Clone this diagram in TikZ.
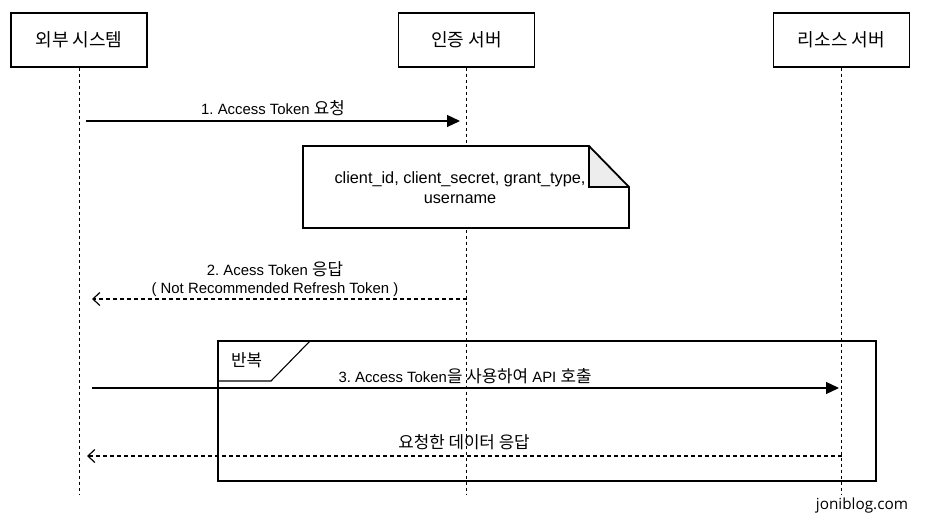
\documentclass[tikz,border=0pt]{standalone}
\usepackage{fontspec}
\setmainfont{Liberation Sans}
\newfontfamily\kr[Scale=1.13]{Noto Sans CJK KR}
\newfontfamily\blogfont{Open Sans}
\usetikzlibrary{arrows.meta}
\frenchspacing
\begin{document}
\begin{tikzpicture}[x=1pt,y=-1pt,
 actor/.style={draw, line width=1.3pt, minimum width=136pt, minimum height=54pt, inner sep=0pt, font=\kr\fontsize{16}{19}\selectfont},
 life/.style={dash pattern=on 3pt off 3pt, line width=1pt},
 req/.style={line width=1.2pt, -{Triangle[length=13pt,width=12pt]}},
 resp/.style={line width=1.2pt, dash pattern=on 4pt off 3pt, -{Straight Barb[length=7pt,width=13pt,line width=1.2pt]}},
 lbl/.style={font=\fontsize{14.9}{17.5}\selectfont, align=center, inner sep=0pt},
 framebox/.style={line width=1.3pt}]
\useasboundingbox (0,0) rectangle (941,521);
% actors
\node[actor] (A) at (79,40) {외부 시스템};
\node[actor] (B) at (466.5,40) {인증 서버};
\node[actor] (C) at (841.5,40) {리소스 서버};
\coordinate (Ae) at (79,495);
\coordinate (Be) at (466.5,495);
\coordinate (Ce) at (841.5,495);
\draw[life] (A.south) -- (Ae);
\draw[life] (B.south) -- (Be);
\draw[life] (C.south) -- (Ce);
% message 1
\coordinate (m1s) at (86,121);
\coordinate (m1e) at (460,121);
\draw[req] (m1s) -- (m1e);
\node[lbl] (l1) at (273,108) {1. Access Token {\kr 요청}};
% note
\coordinate (n1) at (303,146);
\coordinate (n2) at (589,146);
\coordinate (n3) at (629,187);
\coordinate (n4) at (629,228);
\coordinate (n5) at (303,228);
\coordinate (nf) at (589,187);
\fill[white] (n1) -- (n2) -- (n3) -- (n4) -- (n5) -- cycle;
\fill[black!7] (n2) -- (n3) -- (nf) -- cycle;
\draw[line width=1.8pt, line join=miter] (n1) -- (n2) -- (n3) -- (n4) -- (n5) -- cycle;
\draw[line width=1.8pt] (n2) -- (nf) -- (n3);
\node[lbl, font=\fontsize{16.3}{20}\selectfont] (nt) at (460,188) {client\_id, client\_secret, grant\_type,\\username};
% message 2
\coordinate (m2s) at (466.5,299);
\coordinate (m2e) at (92,299);
\draw[resp] (m2s) -- (m2e);
\node[lbl] (l2) at (275,279) {2. Acess Token {\kr 응답}\\( Not Recommended Refresh Token )};
% loop frame
\coordinate (f1) at (218,341);
\coordinate (f2) at (876,481);
\draw[framebox] (f1) rectangle (f2);
\coordinate (p1) at (310,341);
\coordinate (p2) at (271,381);
\coordinate (p3) at (218,381);
\draw[line width=1.1pt] (p1) -- (p2) -- (p3);
\node[lbl, anchor=west] (loop) at (231,360) {\kr 반복};
% message 3
\coordinate (m3s) at (92,388);
\coordinate (m3e) at (839,388);
\draw[req] (m3s) -- (m3e);
\node[lbl] (l3) at (465,376) {3. Access Token{\kr 을 사용하여} API {\kr 호출}};
% message 4
\coordinate (m4s) at (841.5,456);
\coordinate (m4e) at (87,456);
\draw[resp] (m4s) -- (m4e);
\node[lbl] (l4) at (464,442) {\kr 요청한 데이터 응답};
% watermark
\node[font=\blogfont\fontsize{15.3}{17}\selectfont, inner sep=0pt] (wm) at (862,506) {joniblog.com};
\end{tikzpicture}
\end{document}
